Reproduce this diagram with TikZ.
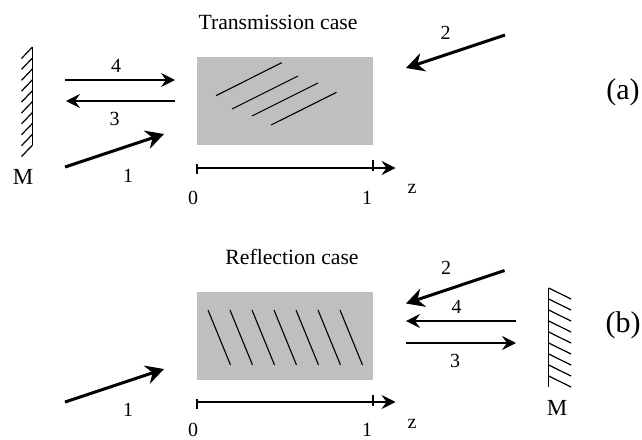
\documentclass[tikz,border=0pt]{standalone}
\usepackage{fontspec}
\setmainfont{Liberation Serif}
\usetikzlibrary{arrows.meta}
\tikzset{
  thinarrow/.style={line width=1.3pt,-{Stealth[length=14pt,width=14pt,inset=5pt]}},
  thickarrow/.style={line width=3pt,-{Stealth[length=18pt,width=19pt,inset=6pt]}},
  axis/.style={line width=1.3pt,-{Stealth[length=14pt,width=14pt,inset=5pt]}},
  tick/.style={line width=1.1pt},
  grating/.style={line width=1.1pt},
  mirror/.style={line width=1.2pt},
  crystal/.style={fill=black!25,draw=none},
  lbl/.style={inner sep=0pt,font=\fontsize{20}{22}\selectfont},
  mlbl/.style={inner sep=0pt,font=\fontsize{23}{25}\selectfont},
  ttl/.style={inner sep=0pt,font=\fontsize{21.7}{24}\selectfont},
  tag/.style={inner sep=0pt,font=\fontsize{30}{32}\selectfont}
}
\begin{document}
\begin{tikzpicture}[x=1pt,y=-1pt]
\useasboundingbox (0,0) rectangle (642,439);
% panel (a)
\node[ttl] (ttlA) at (278,22) {Transmission case};
\fill[crystal] (197,57) rectangle (373,145);
\draw[grating] (216,95.7) -- (281.7,62.7);
\draw[grating] (232,109) -- (298,76);
\draw[grating] (252,116) -- (318,83);
\draw[grating] (271,125) -- (336.5,92.3);
\draw[mirror] (32.5,47) -- (32.5,145);
\foreach \i in {0,...,9} \draw[mirror] (32.5,47+10.9*\i) -- (21.5,58.5+10.9*\i);
\node[mlbl] (mA) at (23,177) {M};
\coordinate (a4s) at (65,80); \coordinate (a4e) at (175,80);
\coordinate (a3s) at (175,101); \coordinate (a3e) at (66,101);
\coordinate (a1s) at (65,167); \coordinate (a1e) at (164,134);
\coordinate (a2s) at (505,35); \coordinate (a2e) at (406,68);
\draw[thinarrow] (a4s) -- (a4e);
\draw[thinarrow] (a3s) -- (a3e);
\draw[thickarrow] (a1s) -- (a1e);
\draw[thickarrow] (a2s) -- (a2e);
\node[lbl] (l4a) at (116,66) {4};
\node[lbl] (l3a) at (114.5,119) {3};
\node[lbl] (l1a) at (128,175.5) {1};
\node[lbl] (l2a) at (445.5,33) {2};
\coordinate (axAs) at (197,168); \coordinate (axAe) at (395.5,168);
\draw[axis] (axAs) -- (axAe);
\draw[tick] (197,164) -- (197,174);
\draw[tick] (373,160) -- (373,171);
\node[lbl] (zeroA) at (193,198) {0};
\node[lbl] (oneA) at (367,198) {1};
\node[lbl] (zA) at (412,189) {z};
\node[tag] (tagA) at (623,92) {(a)};
% panel (b)
\node[ttl] (ttlB) at (292,257) {Reflection case};
\fill[crystal] (197,292) rectangle (373,380);
\foreach \i in {0,...,6} \draw[grating] (208+22*\i,310) -- (230.5+22*\i,365);
\draw[mirror] (548.7,288) -- (548.7,387);
\foreach \i in {0,...,8} \draw[mirror] (548.7,288+11*\i) -- (571,299+11*\i);
\node[mlbl] (mB) at (557,408) {M};
\coordinate (b1s) at (65,402); \coordinate (b1e) at (164,369);
\coordinate (b2s) at (504.5,270.5); \coordinate (b2e) at (406,303.5);
\coordinate (b4s) at (516,321); \coordinate (b4e) at (406,321);
\coordinate (b3s) at (406,343); \coordinate (b3e) at (516,343);
\draw[thickarrow] (b1s) -- (b1e);
\draw[thickarrow] (b2s) -- (b2e);
\draw[thinarrow] (b4s) -- (b4e);
\draw[thinarrow] (b3s) -- (b3e);
\node[lbl] (l1b) at (128,410) {1};
\node[lbl] (l2b) at (446,268) {2};
\node[lbl] (l4b) at (456.5,307) {4};
\node[lbl] (l3b) at (455,361) {3};
\coordinate (axBs) at (197,402); \coordinate (axBe) at (395.5,402);
\draw[axis] (axBs) -- (axBe);
\draw[tick] (197,399) -- (197,409);
\draw[tick] (373,395) -- (373,406);
\node[lbl] (zeroB) at (193,430) {0};
\node[lbl] (oneB) at (367,430) {1};
\node[lbl] (zB) at (412,424) {z};
\node[tag] (tagB) at (623,325) {(b)};
\end{tikzpicture}
\end{document}
